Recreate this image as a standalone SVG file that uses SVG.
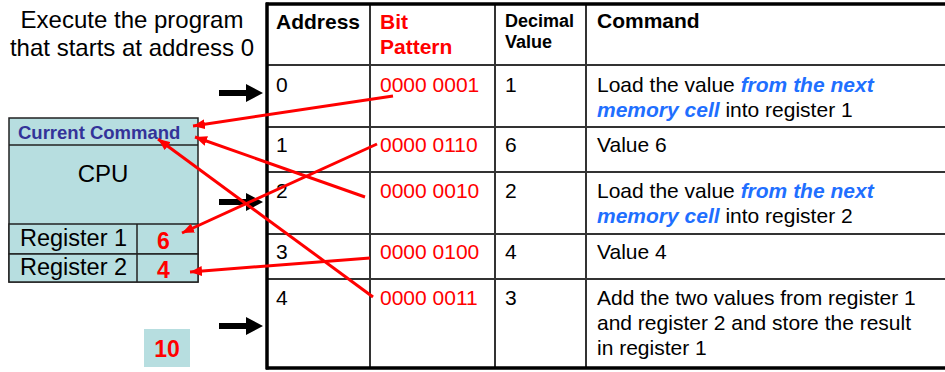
<svg xmlns="http://www.w3.org/2000/svg" width="945" height="372" viewBox="0 0 945 372">
  <style>
    text { font-family: "Liberation Sans", Arial, sans-serif; fill: #000; }
    .body { font-size: 21px; }
    .hdr { font-size: 21px; font-weight: bold; }
    .hdr-sm { font-size: 18px; font-weight: bold; }
    .red { fill: #ff0000; }
    .em { fill: #1f6fff; font-weight: bold; font-style: italic; }
    .cell { fill: #b7dee0; stroke: #222; stroke-width: 1.5; }
    .grid { stroke: #333; stroke-width: 2; }
    .frame { stroke: #000; stroke-width: 3.5; }
    .wire { stroke: #ff0000; stroke-width: 3; fill: none; marker-end: url(#head); }
    .pointer { fill: #000; }
  </style>
  <defs>
    <marker id="head" markerUnits="userSpaceOnUse" markerWidth="12" markerHeight="10" refX="12" refY="5" orient="auto">
      <path d="M0,0 L12,5 L0,10 z" fill="#ff0000"/>
    </marker>
  </defs>

  <rect width="945" height="372" fill="#fff"/>

  <!-- caption -->
  <g id="caption">
    <text x="132" y="28" font-size="24" text-anchor="middle">Execute the program</text>
    <text x="132" y="56" font-size="24" text-anchor="middle">that starts at address 0</text>
  </g>

  <!-- CPU block -->
  <g id="cpu">
    <rect class="cell" x="9" y="118" width="189" height="164"/>
    <line x1="9" y1="145" x2="198" y2="145" stroke="#222" stroke-width="1.5"/>
    <text x="18" y="139" font-size="18.5" font-weight="bold" style="fill:#333399">Current Command</text>
    <text x="103" y="182" font-size="24" text-anchor="middle">CPU</text>
  </g>
  <g id="register1">
    <rect class="cell" x="9" y="224" width="189" height="30"/>
    <line x1="137" y1="224" x2="137" y2="254" stroke="#222" stroke-width="1.5"/>
    <text x="20" y="246" font-size="23.5">Register 1</text>
    <text x="157" y="249" font-size="23" font-weight="bold" class="red">6</text>
  </g>
  <g id="register2">
    <rect class="cell" x="9" y="254" width="189" height="28"/>
    <line x1="137" y1="254" x2="137" y2="282" stroke="#222" stroke-width="1.5"/>
    <text x="20" y="275" font-size="23.5">Register 2</text>
    <text x="157" y="278" font-size="23" font-weight="bold" class="red">4</text>
  </g>
  <g id="result">
    <rect x="144" y="329" width="46" height="38" fill="#b7dee0"/>
    <text x="167" y="357" font-size="23" font-weight="bold" text-anchor="middle" class="red">10</text>
  </g>

  <!-- memory table -->
  <g id="memory-table">
    <g class="grid">
      <line x1="266" y1="65" x2="945" y2="65"/>
      <line x1="266" y1="127" x2="945" y2="127"/>
      <line x1="266" y1="172" x2="945" y2="172"/>
      <line x1="266" y1="234" x2="945" y2="234"/>
      <line x1="266" y1="279" x2="945" y2="279"/>
      <line x1="370" y1="4" x2="370" y2="368"/>
      <line x1="495" y1="4" x2="495" y2="368"/>
      <line x1="586" y1="4" x2="586" y2="368"/>
    </g>
    <g class="frame">
      <line x1="266" y1="4" x2="945" y2="4"/>
      <line x1="266" y1="368" x2="945" y2="368"/>
      <line x1="267" y1="2.5" x2="267" y2="369.5"/>
    </g>
  </g>

  <g id="header">
    <text class="hdr" x="276" y="29">Address</text>
    <text class="hdr red" x="380" y="29">Bit</text>
    <text class="hdr red" x="380" y="54">Pattern</text>
    <text class="hdr-sm" x="505" y="27">Decimal</text>
    <text class="hdr-sm" x="505" y="48">Value</text>
    <text class="hdr" x="597" y="28">Command</text>
  </g>

  <g id="row0">
    <text class="body" x="276" y="92">0</text>
    <text class="body red" x="380" y="92">0000 0001</text>
    <text class="body" x="505" y="92">1</text>
    <text class="body" x="597" y="92">Load the value <tspan class="em">from the next</tspan></text>
    <text class="body" x="597" y="117"><tspan class="em">memory cell</tspan> into register 1</text>
  </g>
  <g id="row1">
    <text class="body" x="276" y="152">1</text>
    <text class="body red" x="380" y="152">0000 0110</text>
    <text class="body" x="505" y="152">6</text>
    <text class="body" x="597" y="152">Value 6</text>
  </g>
  <g id="row2">
    <text class="body" x="276" y="198">2</text>
    <text class="body red" x="380" y="198">0000 0010</text>
    <text class="body" x="505" y="198">2</text>
    <text class="body" x="597" y="198">Load the value <tspan class="em">from the next</tspan></text>
    <text class="body" x="597" y="223"><tspan class="em">memory cell</tspan> into register 2</text>
  </g>
  <g id="row3">
    <text class="body" x="276" y="259">3</text>
    <text class="body red" x="380" y="259">0000 0100</text>
    <text class="body" x="505" y="259">4</text>
    <text class="body" x="597" y="259">Value 4</text>
  </g>
  <g id="row4">
    <text class="body" x="276" y="305">4</text>
    <text class="body red" x="380" y="305">0000 0011</text>
    <text class="body" x="505" y="305">3</text>
    <text class="body" x="597" y="305">Add the two values from register 1</text>
    <text class="body" x="597" y="330">and register 2 and store the result</text>
    <text class="body" x="597" y="355">in register 1</text>
  </g>

  <!-- program-counter pointers -->
  <g id="pointers" class="pointer">
    <polygon points="219,90 246,90 246,84 263,93 246,102 246,96 219,96"/>
    <polygon points="219,199 246,199 246,193 263,202 246,211 246,205 219,205"/>
    <polygon points="219,323 246,323 246,317 263,326 246,335 246,329 219,329"/>
  </g>

  <!-- data flow connectors -->
  <g id="connectors">
    <line class="wire" x1="393" y1="96" x2="193" y2="126"/>
    <line class="wire" x1="365" y1="197" x2="195" y2="137"/>
    <line class="wire" x1="377" y1="144" x2="182" y2="233"/>
    <line class="wire" x1="370" y1="258" x2="190" y2="272"/>
    <line class="wire" x1="373" y1="297" x2="158" y2="139"/>
  </g>
</svg>
